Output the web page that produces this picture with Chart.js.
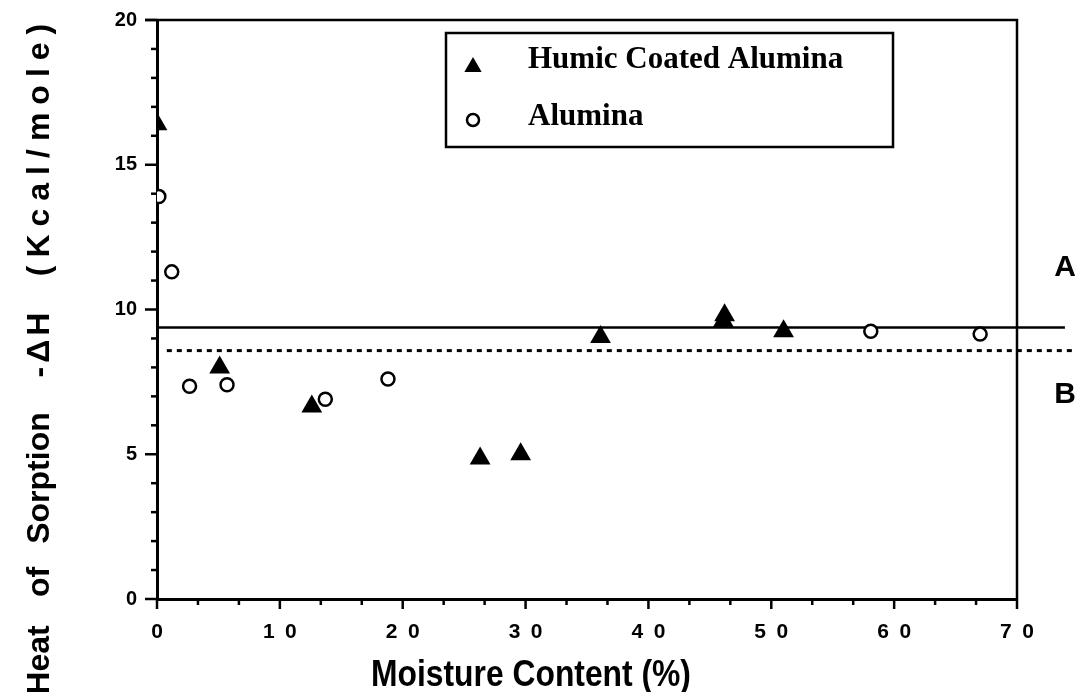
<!DOCTYPE html>
<html>
<head>
<meta charset="utf-8">
<script src="https://cdn.jsdelivr.net/npm/chart.js@4.4.1/dist/chart.umd.min.js"></script>
<style>
  html, body { margin: 0; padding: 0; background: #ffffff; }
  #wrap { width: 1077px; height: 692px; }
</style>
</head>
<body>
<div id="wrap"><canvas id="c" width="1077" height="692"></canvas></div>
<script>
// Heat of sorption (-ΔH, Kcal/mole) against moisture content (%)
const humicX    = [0, 5.1, 12.6, 26.3, 29.6, 36.1, 46.1, 46.2, 51.0];
const humicY    = [16.4, 8.0, 6.65, 4.85, 5.0, 9.05, 9.6, 9.8, 9.25];
const aluminaX  = [0.15, 1.2, 2.65, 5.7, 13.7, 18.8, 58.1, 67.0];
const aluminaY  = [13.9, 11.3, 7.35, 7.4, 6.9, 7.6, 9.25, 9.15];

// Reference levels A (solid) and B (dashed)
const levelA = 9.38;
const levelB = 8.58;
const levelAStartX = 0, levelAEndX = 73.9;
const levelBStartX = 0.8, levelBEndX = 74.5;

const xMin = 0, xMax = 70, xStep = 10;
const yMin = 0, yMax = 20, yStep = 5;
const xTickLabels = ['0', '1\u20020', '2\u20020', '3\u20020', '4\u20020', '5\u20020', '6\u20020', '7\u20020'];

const legendNames = ['Humic Coated Alumina', 'Alumina'];
const yTitleWords = ['Heat', 'of', 'Sorption', '-\u0394H', '(Kcal/mole)'];
const yTitleCenters = [660, 582, 478, 345, 150];
const yTitleSpacing = [0, 0, 0, 4, 8];
const xTitle = 'Moisture Content (%)';

const toPoints = (xs, ys) => xs.map((x, i) => ({ x: x, y: ys[i] }));

const SANS = "'Liberation Sans', Arial, Helvetica, sans-serif";
const SERIF = "'Liberation Serif', 'Times New Roman', serif";

function drawTri(ctx, x, y, r) {
  ctx.beginPath();
  ctx.moveTo(x, y - r);
  ctx.lineTo(x + r * Math.sin(2 * Math.PI / 3), y - r * Math.cos(2 * Math.PI / 3));
  ctx.lineTo(x + r * Math.sin(4 * Math.PI / 3), y - r * Math.cos(4 * Math.PI / 3));
  ctx.closePath();
  ctx.fill();
}

const framePlugin = {
  id: 'frame',
  afterDraw(chart) {
    const ctx = chart.ctx;
    const xs = chart.scales.x, ys = chart.scales.y;
    const a = chart.chartArea;
    ctx.save();
    ctx.strokeStyle = '#000';
    ctx.fillStyle = '#000';
    ctx.lineWidth = 2.5;
    ctx.lineCap = 'butt';

    // top and right edges of the frame
    ctx.beginPath();
    ctx.moveTo(a.left - 12, a.top);
    ctx.lineTo(a.right, a.top);
    ctx.lineTo(a.right, a.bottom);
    ctx.stroke();

    // y ticks: majors every 5, minors every 1
    for (let v = yMin; v <= yMax; v += 1) {
      const py = ys.getPixelForValue(v);
      const len = (v % yStep === 0) ? 12 : 6;
      ctx.beginPath();
      ctx.moveTo(a.left - len, py);
      ctx.lineTo(a.left, py);
      ctx.stroke();
    }
    // x ticks: majors every 10, three minor intervals per major
    for (let k = 0; k <= (xMax - xMin) / xStep * 3; k++) {
      const v = xMin + k * xStep / 3;
      const px = xs.getPixelForValue(v);
      const len = (k % 3 === 0) ? 10 : 6;
      ctx.beginPath();
      ctx.moveTo(px, a.bottom);
      ctx.lineTo(px, a.bottom + len);
      ctx.stroke();
    }

    // legend box
    ctx.lineWidth = 2.5;
    ctx.strokeRect(446, 33, 447, 114);
    drawTri(ctx, 473, 67, 10);
    ctx.beginPath();
    ctx.lineWidth = 2.5;
    ctx.arc(473, 120, 6, 0, Math.PI * 2);
    ctx.stroke();
    ctx.font = 'bold 31px ' + SERIF;
    ctx.textAlign = 'left';
    ctx.textBaseline = 'middle';
    ctx.fillText(legendNames[0], 528, 60);
    ctx.fillText(legendNames[1], 528, 117);

    // level labels
    ctx.font = 'bold 30px ' + SANS;
    ctx.textAlign = 'center';
    ctx.fillText('A', 1065, ys.getPixelForValue(levelA) - 60);
    ctx.fillText('B', 1065, ys.getPixelForValue(levelB) + 44);

    // y axis title, word by word
    ctx.font = 'bold 32px ' + SANS;
    ctx.save();
    ctx.translate(40, 0);
    ctx.rotate(-Math.PI / 2);
    yTitleWords.forEach((w, i) => {
      ctx.letterSpacing = yTitleSpacing[i] + 'px';
      ctx.fillText(w, -yTitleCenters[i] + yTitleSpacing[i] / 2, 0);
    });
    ctx.letterSpacing = '0px';
    ctx.restore();

    // x axis title, condensed
    ctx.save();
    ctx.font = 'bold 37px ' + SANS;
    ctx.translate(531, 676);
    ctx.scale(0.86, 1);
    ctx.fillText(xTitle, 0, 0);
    ctx.restore();
    ctx.restore();
  }
};

new Chart(document.getElementById('c'), {
  type: 'scatter',
  data: {
    datasets: [
      {
        label: legendNames[1],
        data: toPoints(aluminaX, aluminaY),
        pointStyle: 'circle',
        pointRadius: 6.5,
        pointBorderWidth: 2.5,
        borderColor: '#000',
        backgroundColor: '#fff',
        clip: 0
      },
      {
        label: legendNames[0],
        data: toPoints(humicX, humicY),
        pointStyle: 'triangle',
        pointRadius: 12,
        pointBorderWidth: 0,
        borderColor: '#000',
        backgroundColor: '#000',
        clip: 0
      },
      {
        label: 'A',
        type: 'line',
        data: [{ x: levelAStartX, y: levelA }, { x: levelAEndX, y: levelA }],
        borderColor: '#000',
        borderWidth: 2.5,
        pointRadius: 0,
        fill: false,
        clip: false
      },
      {
        label: 'B',
        type: 'line',
        data: [{ x: levelBStartX, y: levelB }, { x: levelBEndX, y: levelB }],
        borderColor: '#000',
        borderWidth: 3,
        borderDash: [5, 5],
        pointRadius: 0,
        fill: false,
        clip: false
      }
    ]
  },
  options: {
    responsive: false,
    animation: false,
    devicePixelRatio: 1,
    layout: { padding: { top: 20, right: 60, left: 0, bottom: 0 } },
    plugins: { legend: { display: false }, tooltip: { enabled: false } },
    scales: {
      x: {
        type: 'linear',
        min: xMin, max: xMax,
        afterFit(s) { s.height = 93; s.paddingLeft = 0; s.paddingRight = 0; },
        grid: { display: false, drawTicks: false, tickLength: 0 },
        border: { display: true, color: '#000', width: 3 },
        ticks: {
          stepSize: xStep,
          padding: 21,
          color: '#000',
          font: { family: SANS, size: 21, weight: 'bold' },
          maxRotation: 0,
          callback: (v) => xTickLabels[Math.round((v - xMin) / xStep)]
        }
      },
      y: {
        type: 'linear',
        min: yMin, max: yMax,
        afterFit(s) { s.width = 157; s.paddingTop = 0; s.paddingBottom = 0; },
        grid: { display: false, drawTicks: false, tickLength: 0 },
        border: { display: true, color: '#000', width: 3 },
        ticks: {
          stepSize: yStep,
          padding: 20,
          color: '#000',
          font: { family: SANS, size: 20, weight: 'bold' }
        }
      }
    }
  },
  plugins: [framePlugin]
});
</script>
</body>
</html>
